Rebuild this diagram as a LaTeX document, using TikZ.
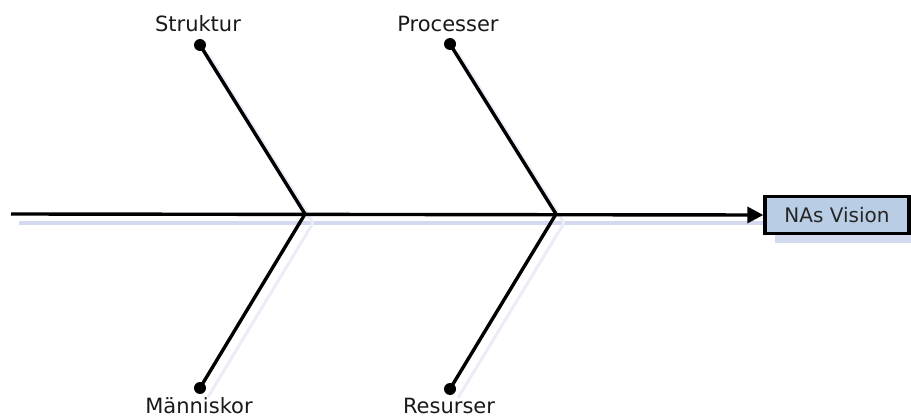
\documentclass[tikz,border=0pt]{standalone}
\usepackage{fontspec}
\setmainfont{DejaVu Sans}
\usetikzlibrary{arrows.meta}
\definecolor{boxfill}{HTML}{B9CDE5}
\definecolor{shadowc}{HTML}{D3DAF0}
\definecolor{shadowlight}{HTML}{EAEDF8}
\tikzset{
  bone/.style={line width=3.4pt, black},
  boneshadow/.style={line width=3pt, shadowlight},
  tipdot/.style={circle, fill=black, inner sep=0pt, minimum size=12pt},
  lbl/.style={font=\fontsize{21}{23}\selectfont, inner sep=0pt, anchor=base, text=black!90},
}
\begin{document}
\begin{tikzpicture}[x=1pt,y=-1pt]
\useasboundingbox (0,0) rectangle (911,417);
% coordinates
\coordinate (tail) at (11,214);
\coordinate (j1) at (305,214);
\coordinate (j2) at (556,214);
\node[tipdot] (d1) at (200,45) {};
\node[tipdot] (d2) at (450,44) {};
\node[tipdot] (d3) at (200,388) {};
\node[tipdot] (d4) at (450,389) {};
% shadows
\draw[line width=3pt, shadowc] (19,223) -- (765,223);
\fill[shadowc] (775,205) rectangle (911,243);
\draw[boneshadow] (208,54) -- (313,223);
\draw[boneshadow] (458,53) -- (564,223);
\draw[boneshadow] (208,397) -- (313,223);
\draw[boneshadow] (458,398) -- (564,223);
% box
\node[draw=black, line width=3.4pt, fill=boxfill, minimum width=144pt, minimum height=37pt, inner sep=0pt,
      font=\fontsize{20}{22}\selectfont, text=black!85] (vis) at (837,215) {NAs Vision};
% spine
\draw[bone, -{Triangle[length=16pt,width=16pt]}] (tail) -- (vis.west);
% bones
\draw[bone] (d1.center) -- (j1);
\draw[bone] (d3.center) -- (j1);
\draw[bone] (d2.center) -- (j2);
\draw[bone] (d4.center) -- (j2);
% labels
\node[lbl] (l1) at (198,32) {Struktur};
\node[lbl] (l2) at (448,32) {Processer};
\node[lbl] (l3) at (199,413) {Människor};
\node[lbl] (l4) at (449,413) {Resurser};
\end{tikzpicture}
\end{document}
